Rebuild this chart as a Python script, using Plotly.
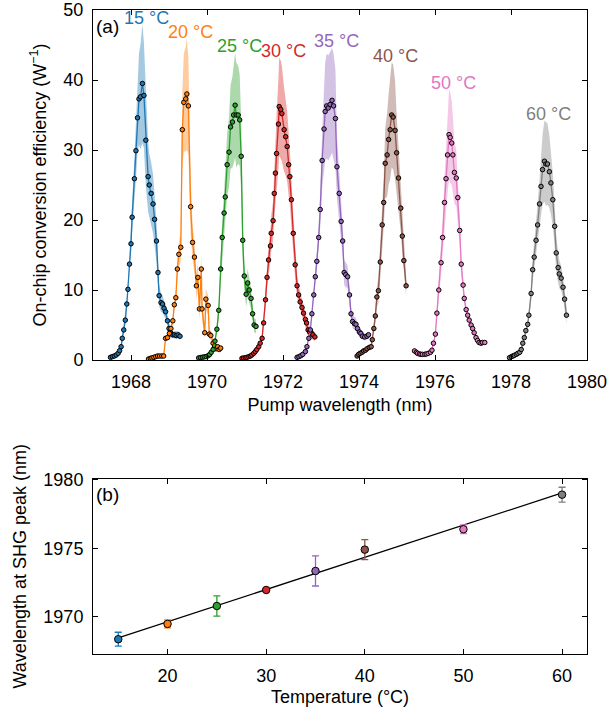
import numpy as np
import plotly.graph_objects as go

# ---------------- data: panel (a) ----------------
temps = [15, 20, 25, 30, 35, 40, 50, 60]
colors = ["#1f77b4", "#ff7f0e", "#2ca02c", "#d62728", "#9467bd", "#8c564b", "#e377c2", "#7f7f7f"]

wl_15 = [1967.46, 1967.51, 1967.56, 1967.61, 1967.66, 1967.70, 1967.74, 1967.77, 1967.81, 1967.85, 1967.89,
         1967.92, 1967.96, 1968.00, 1968.03, 1968.09, 1968.13, 1968.17, 1968.21, 1968.25, 1968.30, 1968.34,
         1968.39, 1968.45, 1968.48, 1968.53, 1968.58, 1968.62, 1968.67, 1968.71, 1968.74, 1968.79, 1968.83,
         1968.87, 1968.91, 1968.96, 1969.00, 1969.04, 1969.09, 1969.14, 1969.19, 1969.24, 1969.29]
eff_15 = [0.38, 0.48, 0.57, 0.71, 0.95, 1.33, 1.9, 3.1, 4.3, 5.7, 8.0, 10.1, 13.7, 16.6, 20.4, 25.9, 29.9, 34.6,
          37.3, 37.6, 39.5, 37.8, 31.4, 26.2, 25.0, 23.8, 22.3, 20.1, 17.0, 12.5, 9.2, 8.2, 8.0, 7.4, 6.9, 5.6,
          4.5, 3.9, 3.6, 3.6, 3.5, 3.6, 3.4]
err_15 = [0.1, 0.1, 0.1, 0.1, 0.2, 0.2, 0.3, 0.4, 0.5, 0.6, 0.8, 1.0, 1.3, 1.6, 2.2, 3.0, 4.0, 5.0, 6.5, 7.5,
          8.5, 7.5, 6.5, 5.0, 4.5, 4.5, 4.2, 3.8, 3.0, 2.2, 1.5, 1.3, 1.2, 1.1, 1.0, 0.8, 0.6, 0.5, 0.5, 0.5,
          0.5, 0.5, 0.5]

wl_20 = [1968.46, 1968.51, 1968.55, 1968.60, 1968.65, 1968.70, 1968.75, 1968.81, 1968.86, 1968.91, 1968.96,
         1969.01, 1969.05, 1969.10, 1969.14, 1969.18, 1969.22, 1969.26, 1969.31, 1969.35, 1969.39, 1969.44,
         1969.47, 1969.51, 1969.57, 1969.62, 1969.67, 1969.72, 1969.76, 1969.80, 1969.85, 1969.87, 1969.94,
         1969.97, 1970.03, 1970.06, 1970.10, 1970.16, 1970.20, 1970.24, 1970.28, 1970.32, 1970.36]
eff_20 = [0.14, 0.24, 0.29, 0.38, 0.48, 0.57, 0.57, 0.57, 0.57, 3.1, 3.2, 3.8, 4.5, 5.6, 7.9, 8.9, 13.0, 15.1,
          16.1, 32.9, 36.8, 37.3, 38.0, 36.3, 21.9, 16.8, 14.7, 10.6, 11.8, 7.3, 13.0, 7.3, 3.9, 8.7, 7.8, 3.7,
          3.5, 2.4, 2.0, 1.6, 1.9, 1.5, 1.7]
err_20 = [0.05, 0.05, 0.05, 0.1, 0.1, 0.1, 0.1, 0.1, 0.1, 0.3, 0.3, 0.4, 0.5, 0.6, 0.8, 1.0, 1.5, 1.8, 2.0, 5.5,
          7.0, 7.5, 8.0, 7.0, 4.0, 2.5, 2.2, 1.8, 2.0, 1.5, 2.2, 1.5, 0.8, 1.5, 1.4, 0.7, 0.6, 0.4, 0.4, 0.3,
          0.3, 0.3, 0.3]

wl_25 = [1969.78, 1969.83, 1969.88, 1969.93, 1969.98, 1970.03, 1970.07, 1970.11, 1970.16, 1970.21, 1970.26,
         1970.31, 1970.36, 1970.40, 1970.45, 1970.48, 1970.53, 1970.58, 1970.62, 1970.67, 1970.70, 1970.74,
         1970.77, 1970.82, 1970.86, 1970.90, 1970.94, 1970.98, 1971.03, 1971.07, 1971.11, 1971.16, 1971.20,
         1971.24, 1971.29]
eff_25 = [0.3, 0.35, 0.4, 0.45, 0.5, 0.6, 0.8, 1.1, 1.5, 2.7, 4.4, 7.1, 13.0, 17.5, 21.0, 23.3, 27.9, 29.7,
          33.3, 34.0, 35.0, 36.4, 35.0, 35.0, 34.3, 29.1, 17.1, 12.0, 9.4, 11.0, 10.0, 8.8, 6.6, 5.0, 4.8]
err_25 = [0.05, 0.05, 0.05, 0.05, 0.05, 0.1, 0.1, 0.2, 0.3, 0.5, 0.8, 1.2, 2.0, 2.5, 3.0, 3.5, 4.5, 5.0, 6.0,
          6.5, 7.0, 7.5, 7.5, 7.0, 6.5, 5.0, 3.0, 2.0, 1.8, 2.0, 1.8, 1.5, 1.2, 1.0, 1.0]

wl_30 = [1970.92, 1970.96, 1971.01, 1971.05, 1971.10, 1971.14, 1971.18, 1971.23, 1971.27, 1971.31, 1971.36,
         1971.40, 1971.45, 1971.49, 1971.54, 1971.58, 1971.62, 1971.67, 1971.69, 1971.74, 1971.77, 1971.80,
         1971.83, 1971.88, 1971.90, 1971.94, 1971.97, 1972.03, 1972.07, 1972.11, 1972.15, 1972.18, 1972.22,
         1972.27, 1972.32, 1972.37, 1972.41, 1972.45, 1972.50, 1972.54, 1972.59, 1972.62, 1972.66, 1972.70,
         1972.75, 1972.79, 1972.84]
eff_30 = [0.24, 0.29, 0.33, 0.38, 0.48, 0.57, 0.71, 0.95, 1.2, 1.5, 1.9, 2.4, 3.1, 5.3, 8.6, 11.8, 14.3, 16.3,
          18.1, 19.9, 23.8, 26.7, 29.5, 33.7, 36.2, 35.8, 35.2, 32.9, 31.9, 30.5, 27.9, 26.2, 22.9, 18.1, 13.6,
          10.6, 9.3, 8.3, 7.5, 6.7, 5.8, 5.3, 4.3, 4.0, 3.8, 3.6, 3.3]
err_30 = [0.05, 0.05, 0.05, 0.05, 0.1, 0.1, 0.1, 0.15, 0.2, 0.25, 0.3, 0.4, 0.5, 0.8, 1.2, 1.5, 2.0, 2.2, 2.5,
          2.8, 3.5, 4.5, 5.5, 6.5, 7.0, 7.0, 6.8, 6.0, 5.5, 5.0, 4.5, 4.0, 3.2, 2.5, 2.0, 1.6, 1.4, 1.3, 1.2,
          1.2, 1.1, 1.0, 0.9, 0.9, 0.8, 0.7, 0.6]

wl_35 = [1972.37, 1972.42, 1972.47, 1972.52, 1972.59, 1972.63, 1972.68, 1972.72, 1972.76, 1972.81, 1972.85,
         1972.89, 1972.94, 1972.98, 1973.03, 1973.08, 1973.11, 1973.15, 1973.19, 1973.24, 1973.29, 1973.33,
         1973.38, 1973.42, 1973.48, 1973.53, 1973.57, 1973.61, 1973.65, 1973.70, 1973.75, 1973.79, 1973.83,
         1973.88, 1973.92, 1973.96, 1974.01, 1974.05, 1974.09, 1974.15, 1974.21, 1974.25]
eff_35 = [0.38, 0.48, 0.62, 0.81, 1.2, 1.9, 3.1, 4.3, 6.6, 9.3, 11.9, 14.1, 17.5, 21.5, 28.5, 33.0, 35.5, 36.3,
          36.0, 36.5, 37.1, 36.3, 34.5, 27.6, 23.8, 19.8, 17.0, 12.5, 12.2, 11.9, 9.3, 6.6, 5.5, 5.2, 5.1, 4.5,
          4.0, 3.8, 3.4, 3.3, 3.4, 3.6]
err_35 = [0.05, 0.05, 0.1, 0.1, 0.15, 0.2, 0.3, 0.4, 0.6, 0.8, 1.0, 1.3, 1.8, 2.5, 4.0, 6.0, 7.0, 7.5, 7.5, 7.5,
          7.5, 7.5, 7.0, 4.5, 3.5, 2.8, 2.2, 1.8, 1.8, 1.6, 1.2, 1.0, 0.9, 0.9, 0.9, 0.8, 0.7, 0.6, 0.5, 0.5,
          0.5, 0.5]

wl_40 = [1973.95, 1973.99, 1974.03, 1974.08, 1974.12, 1974.17, 1974.21, 1974.27, 1974.32, 1974.35, 1974.39,
         1974.43, 1974.47, 1974.51, 1974.56, 1974.61, 1974.65, 1974.69, 1974.74, 1974.78, 1974.82, 1974.86,
         1974.90, 1974.95, 1974.99, 1975.04, 1975.10, 1975.14, 1975.18, 1975.24]
eff_40 = [0.57, 0.81, 0.95, 1.1, 1.3, 1.4, 1.6, 1.8, 1.9, 2.9, 4.5, 6.3, 9.0, 9.9, 14.0, 19.3, 22.5, 28.1, 29.3,
          31.5, 32.9, 35.0, 34.7, 32.8, 29.6, 26.0, 21.7, 17.7, 14.2, 10.6]
err_40 = [0.05, 0.1, 0.1, 0.1, 0.1, 0.1, 0.15, 0.2, 0.2, 0.4, 0.7, 1.0, 1.5, 1.7, 2.3, 3.0, 3.5, 5.0, 6.0, 6.5,
          7.0, 7.5, 7.5, 7.0, 5.5, 4.5, 3.5, 2.5, 2.0, 1.5]

wl_50 = [1975.46, 1975.51, 1975.54, 1975.59, 1975.63, 1975.67, 1975.73, 1975.77, 1975.82, 1975.88, 1975.92,
         1975.96, 1976.01, 1976.05, 1976.10, 1976.16, 1976.20, 1976.25, 1976.29, 1976.33, 1976.37, 1976.40,
         1976.44, 1976.47, 1976.51, 1976.56, 1976.60, 1976.65, 1976.69, 1976.74, 1976.77, 1976.82, 1976.86,
         1976.90, 1976.95, 1976.99, 1977.03, 1977.08, 1977.12, 1977.16, 1977.21, 1977.25, 1977.31]
eff_50 = [1.3, 1.1, 0.95, 0.86, 0.81, 0.81, 0.81, 0.86, 0.95, 1.1, 1.4, 2.4, 3.7, 6.7, 10.0, 13.9, 17.5, 22.5,
          25.9, 29.3, 32.2, 31.8, 31.0, 29.3, 26.8, 26.0, 23.2, 18.5, 13.7, 10.7, 8.8, 7.2, 6.4, 5.7, 5.0, 4.5,
          3.9, 3.2, 2.8, 2.5, 2.4, 2.5, 2.5]
err_50 = [0.1, 0.1, 0.1, 0.1, 0.1, 0.1, 0.1, 0.1, 0.1, 0.1, 0.15, 0.25, 0.4, 0.8, 1.2, 1.8, 2.5, 3.5, 4.5, 5.5,
          6.5, 6.5, 6.0, 5.5, 4.5, 4.0, 3.2, 2.2, 1.4, 1.0, 0.8, 0.6, 0.5, 0.4, 0.4, 0.3, 0.3, 0.3, 0.3, 0.3,
          0.3, 0.3, 0.3]

wl_60 = [1977.96, 1978.01, 1978.05, 1978.09, 1978.14, 1978.18, 1978.23, 1978.27, 1978.31, 1978.35, 1978.39,
         1978.44, 1978.47, 1978.53, 1978.57, 1978.61, 1978.66, 1978.70, 1978.75, 1978.79, 1978.83, 1978.88,
         1978.92, 1978.96, 1979.01, 1979.05, 1979.10, 1979.15, 1979.19, 1979.24, 1979.27, 1979.32, 1979.37,
         1979.41, 1979.46]
eff_60 = [0.33, 0.48, 0.57, 0.67, 0.81, 0.95, 1.1, 1.5, 2.4, 3.2, 4.2, 5.1, 6.4, 9.5, 12.9, 14.7, 17.1, 19.3,
          22.3, 24.8, 27.2, 28.4, 28.0, 28.0, 26.9, 25.3, 22.9, 19.1, 15.3, 13.2, 12.3, 11.7, 10.4, 8.7, 6.4]
err_60 = [0.05, 0.05, 0.05, 0.1, 0.1, 0.1, 0.15, 0.2, 0.3, 0.4, 0.5, 0.6, 0.8, 1.2, 1.6, 2.0, 2.5, 3.0, 3.5,
          4.2, 5.0, 5.8, 6.0, 5.8, 5.2, 4.5, 3.8, 3.0, 2.5, 2.2, 2.0, 1.8, 1.6, 1.4, 1.2]

# ---------------- data: panel (b) ----------------
peak_wl = [1968.35, 1969.47, 1970.78, 1971.95, 1973.34, 1974.90, 1976.39, 1978.92]
peak_err = [0.51, 0.29, 0.74, 0.08, 1.10, 0.73, 0.32, 0.54]

x_ticks_a = [1968, 1970, 1972, 1974, 1976, 1978, 1980]
y_ticks_a = [0, 10, 20, 30, 40, 50]
x_ticks_b = [20, 30, 40, 50, 60]
y_ticks_b = [1970, 1975, 1980]

series = [
    (wl_15, eff_15, err_15), (wl_20, eff_20, err_20), (wl_25, eff_25, err_25), (wl_30, eff_30, err_30),
    (wl_35, eff_35, err_35), (wl_40, eff_40, err_40), (wl_50, eff_50, err_50), (wl_60, eff_60, err_60),
]

FONT = "Liberation Sans, Arial, sans-serif"


def rgba(hex_color, a):
    h = hex_color.lstrip("#")
    r, g, b = int(h[0:2], 16), int(h[2:4], 16), int(h[4:6], 16)
    return f"rgba({r},{g},{b},{a})"


fig = go.Figure()
annotations = []

# bands first
for (wl, eff, err), col in zip(series, colors):
    upper = [e + d for e, d in zip(eff, err)]
    lower = [e - d for e, d in zip(eff, err)]
    fig.add_trace(go.Scatter(
        x=list(wl) + list(wl[::-1]), y=upper + lower[::-1],
        fill="toself", fillcolor=rgba(col, 0.4), line=dict(width=0),
        mode="lines", hoverinfo="skip", showlegend=False, xaxis="x", yaxis="y"))

for (wl, eff, err), col, t in zip(series, colors, temps):
    fig.add_trace(go.Scatter(
        x=wl, y=eff, mode="lines+markers",
        line=dict(color=col, width=1.3),
        marker=dict(size=4.5, color=col, line=dict(color="black", width=1)),
        showlegend=False, xaxis="x", yaxis="y"))
    i = int(np.argmax(eff))
    top = max(e + d for e, d in zip(eff, err))
    annotations.append(dict(
        x=wl[i], y=top, xref="x", yref="y", text=f"{t} °C", showarrow=False,
        xanchor="center", yanchor="middle", xshift=4, yshift=6.5,
        font=dict(family=FONT, size=18, color=col)))

# panel (b): linear fit
coef = np.polyfit(temps, peak_wl, 1)
fit_x = [temps[0], temps[-1]]
fit_y = [coef[0] * v + coef[1] for v in fit_x]
fig.add_trace(go.Scatter(x=fit_x, y=fit_y, mode="lines", line=dict(color="black", width=1.3),
                         showlegend=False, xaxis="x2", yaxis="y2", hoverinfo="skip"))
for t, w, e, col in zip(temps, peak_wl, peak_err, colors):
    fig.add_trace(go.Scatter(
        x=[t], y=[w], mode="markers",
        error_y=dict(type="data", array=[e], color=col, thickness=1.3, width=3.5),
        marker=dict(size=7.5, color=col, line=dict(color="black", width=1)),
        showlegend=False, xaxis="x2", yaxis="y2"))

annotations.append(dict(x=0, y=1, xref="x domain", yref="y domain", text="(a)", showarrow=False,
                        xanchor="left", yanchor="top", xshift=1, yshift=-4,
                        font=dict(family=FONT, size=19, color="black")))
annotations.append(dict(x=0, y=1, xref="x2 domain", yref="y2 domain", text="(b)", showarrow=False,
                        xanchor="left", yanchor="top", xshift=1, yshift=-3,
                        font=dict(family=FONT, size=19, color="black")))

axis_common = dict(showline=True, linecolor="black", linewidth=1, mirror="ticks", ticks="inside",
                   ticklen=5, tickwidth=1, tickcolor="black", showgrid=False, zeroline=False,
                   automargin=False, ticklabeloverflow="allow",
                   tickfont=dict(family=FONT, size=18, color="black"))

fig.update_layout(
    width=608, height=715,
    margin=dict(l=93, r=21, t=10, b=61),
    paper_bgcolor="white", plot_bgcolor="white",
    font=dict(family=FONT, size=18, color="black"),
    xaxis=dict(domain=[0, 1], anchor="y", range=[1967, 1980], tickvals=x_ticks_a, ticklabelstandoff=5,
               title=dict(text="Pump wavelength (nm)", standoff=7, font=dict(size=18)), **axis_common),
    yaxis=dict(domain=[0.4565, 1], anchor="x", range=[0, 50], tickvals=y_ticks_a, ticklabelstandoff=5,
               title=dict(text="On-chip conversion efficiency (W<sup>−1</sup>)", standoff=12,
                          font=dict(size=18)), **axis_common),
    xaxis2=dict(domain=[0, 1], anchor="y2", range=[12.44, 62.53], tickvals=x_ticks_b, ticklabelstandoff=5,
                title=dict(text="Temperature (°C)", standoff=5, font=dict(size=18)), **axis_common),
    yaxis2=dict(domain=[0, 0.2725], anchor="x2", range=[1967.27, 1980.1], tickvals=y_ticks_b,
                ticklabelstandoff=5,
                title=dict(text="Wavelength at SHG peak (nm)", standoff=12, font=dict(size=18)), **axis_common),
    annotations=annotations,
)

# remove the default 8 px page margin so the figure fills the 608x715 window exactly
fig.write_html("out.html", config={"displayModeBar": False},
               post_script="document.body.style.margin='0';")
